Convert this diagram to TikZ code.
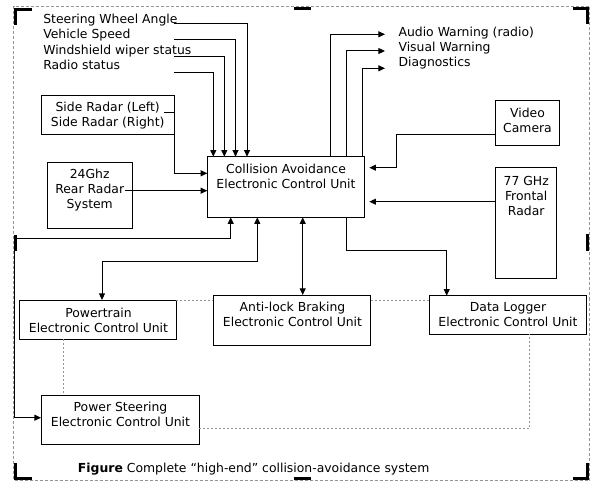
\documentclass[tikz,border=0pt]{standalone}
\usepackage{fontspec}
\setmainfont{DejaVu Sans}
\usetikzlibrary{arrows.meta,fit}
\begin{document}
\begin{tikzpicture}[x=0.75pt,y=-0.75pt,
  lw/.style={line width=0.75pt},
  boxn/.style={draw,lw,inner sep=0pt,outer sep=0pt,rectangle},
  txt/.style={inner sep=0pt,align=center,font=\fontsize{9.3pt}{11.25pt}\selectfont,
    execute at begin node=\strut,execute at end node=\strut},
  ltxt/.style={inner sep=0pt,font=\fontsize{9.3pt}{11.25pt}\selectfont,anchor=base west},
  conn/.style={lw,-{Triangle[length=5pt,width=4.5pt]}},
  conn2/.style={lw,{Triangle[length=5pt,width=4.5pt]}-{Triangle[length=5pt,width=4.5pt]}},
  dline/.style={line width=0.75pt,black!42,dash pattern=on 1.5pt off 1.5pt},
  frameline/.style={line width=0.75pt,black!42,dash pattern=on 2.25pt off 1.5pt},
  handle/.style={line width=2.25pt,black}
]
\useasboundingbox (0,0) rectangle (602,491);

% frame and handles
\draw[frameline] (13.5,6.3) rectangle (589.7,480.3);
\draw[handle] (15.3,25) -- (15.3,10) -- (31.7,10);
\draw[handle] (293.5,8.7) -- (310.5,8.7);
\draw[handle] (572.7,8.7) -- (587.7,8.7) -- (587.7,24);
\draw[handle] (15.5,235) -- (15.5,251);
\draw[handle] (587.2,234) -- (587.2,251);
\draw[handle] (15.3,463.3) -- (15.3,478.3) -- (31.7,478.3);
\draw[handle] (294,478.2) -- (311,478.2);
\draw[handle] (572.7,478.3) -- (587,478.3) -- (587,463.3);

% boxes
\node[boxn, fit={(207.3,156.7)(364.3,217.3)}] (ecu) {};
\node[boxn, fit={(41.7,95.7)(174.3,134.3)}] (sr) {};
\node[boxn, fit={(47.7,162.3)(132.7,228.3)}] (rr) {};
\node[boxn, fit={(495,101)(559.3,145.7)}] (vid) {};
\node[boxn, fit={(495,167.7)(556.7,278.3)}] (fr) {};
\node[boxn, fit={(19.3,300)(176,339.3)}] (pt) {};
\node[boxn, fit={(213.3,295)(370.7,345.3)}] (abs) {};
\node[boxn, fit={(429.3,295.7)(586,334.3)}] (dl) {};
\node[boxn, fit={(41,395)(199,444)}] (ps) {};

% box texts
\node[txt] (ecuT) at (286,178.3) {Collision Avoidance\\Electronic Control Unit};
\node[txt] (srT) at (107.7,117) {Side Radar (Left)\\Side Radar (Right)};
\node[txt] (rrT) at (89.7,191.5) {24Ghz\\Rear Radar\\System};
\node[txt] (vidT) at (527.5,122.3) {Video\\Camera};
\node[txt] (frT) at (526.2,198.2) {77 GHz\\Frontal\\Radar};
\node[txt] (ptT) at (98.5,322.3) {Powertrain\\Electronic Control Unit};
\node[txt] (absT) at (292.5,316.3) {Anti-lock Braking\\Electronic Control Unit};
\node[txt] (dlT) at (508,316.5) {Data Logger\\Electronic Control Unit};
\node[txt] (psT) at (120.5,416.7) {Power Steering\\Electronic Control Unit};

% input / output labels
\node[ltxt] (in1T) at (43,23.8) {Steering Wheel Angle};
\node[ltxt] (in2T) at (43,38.8) {Vehicle Speed};
\node[ltxt] (in3T) at (43,54.4) {Windshield wiper status};
\node[ltxt] (in4T) at (43,69.6) {Radio status};
\node[ltxt] (out1T) at (398.3,36.3) {Audio Warning (radio)};
\node[ltxt] (out2T) at (398.3,51.3) {Visual Warning};
\node[ltxt] (out3T) at (398.3,66.3) {Diagnostics};

% caption
\node[ltxt] (cap) at (77.7,472.5) {\textbf{Figure} Complete “high-end” collision-avoidance system};

% coordinates
\coordinate (i1) at (174,23.3);
\coordinate (i2) at (174,40);
\coordinate (i3) at (174,57);
\coordinate (i4) at (174,73);
\coordinate (xa) at (247,0);
\coordinate (xb) at (235.5,0);
\coordinate (xc) at (224.3,0);
\coordinate (xd) at (213.3,0);
\coordinate (srt) at (164,112.7);
\coordinate (y173) at (0,173.3);
\coordinate (rrt) at (125,190.7);
\coordinate (vk) at (396.7,134.3);
\coordinate (y168) at (0,167.7);
\coordinate (y202) at (0,201.7);
\coordinate (o1) at (385,34.3);
\coordinate (o2) at (385,51);
\coordinate (o3) at (385,68.3);
\coordinate (xo1) at (330,0);
\coordinate (xo2) at (346,0);
\coordinate (xo3) at (362.3,0);
\coordinate (xe) at (230.7,0);
\coordinate (p1) at (14.7,239);
\coordinate (y418) at (0,417.7);
\coordinate (xf) at (257.3,0);
\coordinate (p2) at (102,262);
\coordinate (xg) at (302.7,0);
\coordinate (xh) at (346.7,0);
\coordinate (p3) at (446.7,251);
\coordinate (xq) at (63.3,0);
\coordinate (q4) at (529.3,428.3);

% inputs
\draw[conn] (i1) -| (ecu.north -| xa);
\draw[conn] (i2) -| (ecu.north -| xb);
\draw[conn] (i3) -| (ecu.north -| xc);
\draw[conn] (i4) -| (ecu.north -| xd);
\draw[conn] (srt) -- (sr.east |- srt) |- (ecu.west |- y173);
\draw[conn] (rrt) -- (ecu.west |- rrt);
\draw[conn, shorten >=3.75pt] (vid.west |- vk) -- (vk) |- (ecu.east |- y168);
\draw[conn, shorten >=3.75pt] (fr.west |- y202) -- (ecu.east |- y202);

% outputs
\draw[conn] (ecu.north -| xo1) |- (o1);
\draw[conn] (ecu.north -| xo2) |- (o2);
\draw[conn] (ecu.north -| xo3) |- (o3);

% lower connections
\draw[conn2] (ecu.south -| xe) |- (p1) |- (ps.west |- y418);
\draw[conn2] (ecu.south -| xf) |- (p2) -- (pt.north -| p2);
\draw[conn2] (ecu.south -| xg) -- (abs.north -| xg);
\draw[conn] (ecu.south -| xh) |- (p3) -- (dl.north -| p3);

% dotted links
\draw[dline] (pt.north east) -- (abs.west |- pt.north east);
\draw[dline] (abs.east |- pt.north east) -- (dl.west |- pt.north east);
\draw[dline] (pt.south -| xq) -- (ps.north -| xq);
\draw[dline] (ps.east |- q4) -| (dl.south -| q4);
\end{tikzpicture}
\end{document}
